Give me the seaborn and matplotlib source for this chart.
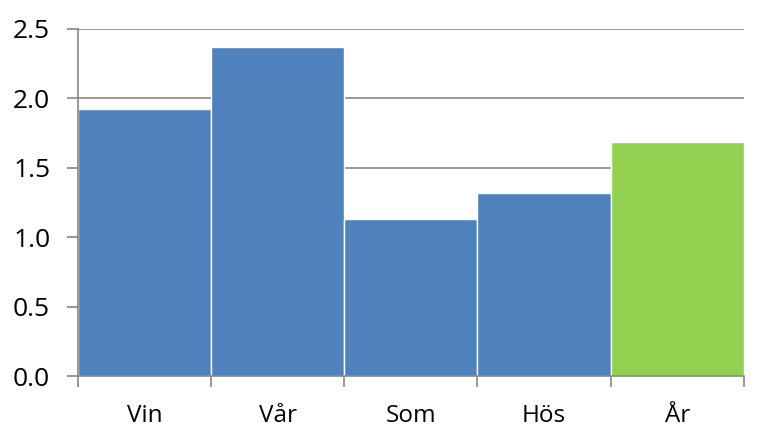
import numpy as np
import pandas as pd
import matplotlib
matplotlib.use('Agg')
import matplotlib.pyplot as plt
import seaborn as sns

# values
seasons = ['Vin', 'Vår', 'Som', 'Hös', 'År']
values = [1.92, 2.37, 1.13, 1.32, 1.685]
bar_colors = ['#4F81BD', '#4F81BD', '#4F81BD', '#4F81BD', '#92D050']
y_ticks = [0.0, 0.5, 1.0, 1.5, 2.0, 2.5]

sns.set_style('white')
plt.rcParams['font.family'] = ['Open Sans', 'DejaVu Sans']

df = pd.DataFrame({'season': seasons, 'value': values})

fig = plt.figure(figsize=(7.67, 4.44), dpi=100)
ax = fig.add_axes([0.1017, 0.1525, 0.868, 0.7829])

grid_col = '#868686'
ax.set_axisbelow(True)
ax.yaxis.grid(True, color=grid_col, linewidth=1.2)

sns.barplot(data=df, x='season', y='value', hue='season', palette=bar_colors,
            width=1.0, dodge=False, legend=False, ax=ax,
            edgecolor='white', linewidth=1.0, saturation=1)

ax.set_xlim(-0.5, len(seasons) - 0.5)
ax.set_ylim(0, 2.5)
ax.set_yticks(y_ticks)
ax.set_yticklabels([f'{t:.1f}' for t in y_ticks])
ax.set_xlabel('')
ax.set_ylabel('')

# tick marks between categories, labels centred under bars
ax.set_xticks(np.arange(-0.5, len(seasons)), minor=True)
ax.tick_params(axis='x', which='minor', length=8, width=1.2, color=grid_col, direction='out', bottom=True)
ax.tick_params(axis='x', which='major', length=0, labelsize=17.5, labelcolor='black', pad=20)
ax.tick_params(axis='y', which='major', length=8, width=1.2, color=grid_col, direction='out', left=True,
               labelsize=19, labelcolor='black', pad=12)

for side in ['top', 'right']:
    ax.spines[side].set_visible(False)
for side in ['left', 'bottom']:
    ax.spines[side].set_color(grid_col)
    ax.spines[side].set_linewidth(1.2)

fig.savefig('out.png', dpi=100)
